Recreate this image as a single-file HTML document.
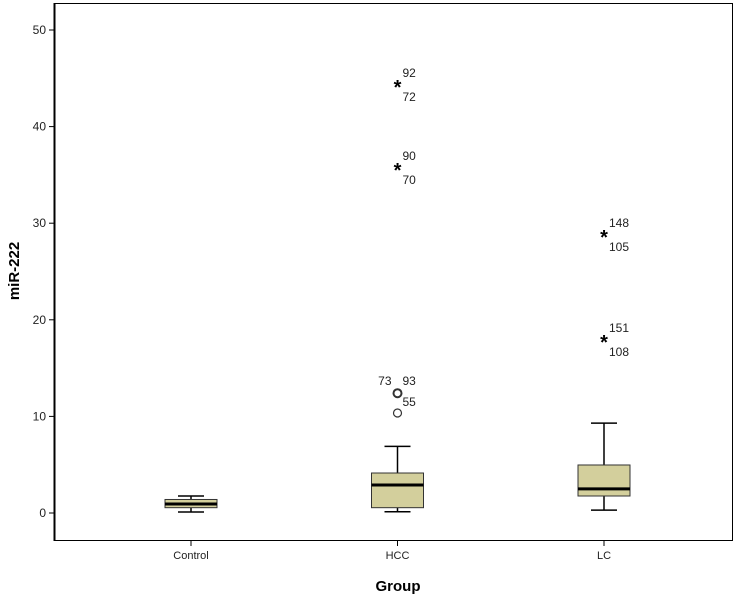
<!DOCTYPE html>
<html><head><meta charset="utf-8"><style>
body{margin:0;background:#fff;font-family:"Liberation Sans",Arial,sans-serif;}
svg text{font-family:"Liberation Sans",Arial,sans-serif;}
</style></head><body>
<svg id="chart" width="745" height="597" xmlns="http://www.w3.org/2000/svg">
<rect x="54.5" y="3.5" width="678" height="537" fill="#fff" stroke="#000" stroke-width="1"/>
<line x1="54.5" y1="3" x2="54.5" y2="541" stroke="#000" stroke-width="2"/>
<g id="ticks"></g>
<g id="marks"></g>
<text transform="translate(19,271) rotate(-90)" text-anchor="middle" font-size="15" font-weight="bold">miR-222</text>
<text x="398" y="591" text-anchor="middle" font-size="15" font-weight="bold">Group</text>
</svg>
<script>
const categories=["Control","HCC","LC"];
const whiskerLow=[0.1,0.13,0.3];
const q1=[0.55,0.55,1.76];
const medians=[0.93,2.9,2.5];
const q3=[1.4,4.14,4.97];
const whiskerHigh=[1.76,6.9,9.3];
const outlierGroups=[1,1];
const outlierValues=[12.4,10.35];
const outlierLabels=[["73","93"],["55"]];
const extremeGroups=[1,1,2,2];
const extremeValues=[44.3,35.7,28.8,17.9];
const extremeLabels=[["92","72"],["90","70"],["148","105"],["151","108"]];
const yTicks=[0,10,20,30,40,50];

const NS="http://www.w3.org/2000/svg";
function y(v){return 513-v*9.66;}
function x(i){return 191+i*206.5;}
const ticks=document.getElementById('ticks');
const marks=document.getElementById('marks');
function mk(tag,attrs,parent,txt){const e=document.createElementNS(NS,tag);for(const k in attrs)e.setAttribute(k,attrs[k]);if(txt!==undefined)e.textContent=txt;parent.appendChild(e);return e;}
yTicks.forEach(t=>{
  const l=mk('line',{x1:49,x2:54,y1:y(t),y2:y(t),stroke:'#000'},ticks);
  
  
  const tx=mk('text',{x:46,y:y(t)+4,'text-anchor':'end','font-size':12,fill:'#222'},ticks,t);
  
  
});
categories.forEach((c,i)=>{
  const cx=x(i);
  const tk=mk('line',{x1:cx,x2:cx,y1:541,y2:546,stroke:'#000'},ticks);
  
  
  const tl=mk('text',{x:cx,y:559,'text-anchor':'middle','font-size':11,fill:'#222'},ticks,c);
  
  
  const g=mk('g',{},marks);
  
  
  mk('line',{x1:cx,x2:cx,y1:y(whiskerHigh[i]),y2:y(q3[i]),stroke:'#000','stroke-width':1.5},g);
  mk('line',{x1:cx,x2:cx,y1:y(q1[i]),y2:y(whiskerLow[i]),stroke:'#000','stroke-width':1.5},g);
  mk('line',{x1:cx-13,x2:cx+13,y1:y(whiskerHigh[i]),y2:y(whiskerHigh[i]),stroke:'#000','stroke-width':1.5},g);
  mk('line',{x1:cx-13,x2:cx+13,y1:y(whiskerLow[i]),y2:y(whiskerLow[i]),stroke:'#000','stroke-width':1.5},g);
  mk('rect',{x:cx-26,y:y(q3[i]),width:52,height:y(q1[i])-y(q3[i]),fill:'#d3cf9c',stroke:'#333','stroke-width':1},g);
  mk('line',{x1:cx-26,x2:cx+26,y1:y(medians[i]),y2:y(medians[i]),stroke:'#000','stroke-width':3},g);
});
outlierValues.forEach((v,k)=>{
  const cx=x(outlierGroups[k]),cy=y(v);
  const c=mk('circle',{cx:cx,cy:cy,r:4,fill:'none',stroke:'#333','stroke-width':k===0?2:1.2},marks);
  
  
  const labs=outlierLabels[k];
  if(labs.length===2){
    const a=mk('text',{x:cx-6,y:cy-8,'text-anchor':'end','font-size':12,fill:'#222'},marks,labs[0]);
    
    
    const b=mk('text',{x:cx+5,y:cy-8,'font-size':12,fill:'#222'},marks,labs[1]);
    
    
  }
  if(k===0){
    const d=mk('text',{x:cx+5,y:cy+13,'font-size':12,fill:'#222'},marks,outlierLabels[1][0]);
    
    
  }
});
extremeValues.forEach((v,k)=>{
  const cx=x(extremeGroups[k]),cy=y(v);
  const s=mk('text',{x:cx,y:cy+9,'text-anchor':'middle','font-size':20,'font-weight':'bold',fill:'#000'},marks,'*');
  
  
  const a=mk('text',{x:cx+5,y:cy-8,'font-size':12,fill:'#222'},marks,extremeLabels[k][0]);
  
  
  const b=mk('text',{x:cx+5,y:cy+16,'font-size':12,fill:'#222'},marks,extremeLabels[k][1]);
  
  
});
</script>
</body></html>
